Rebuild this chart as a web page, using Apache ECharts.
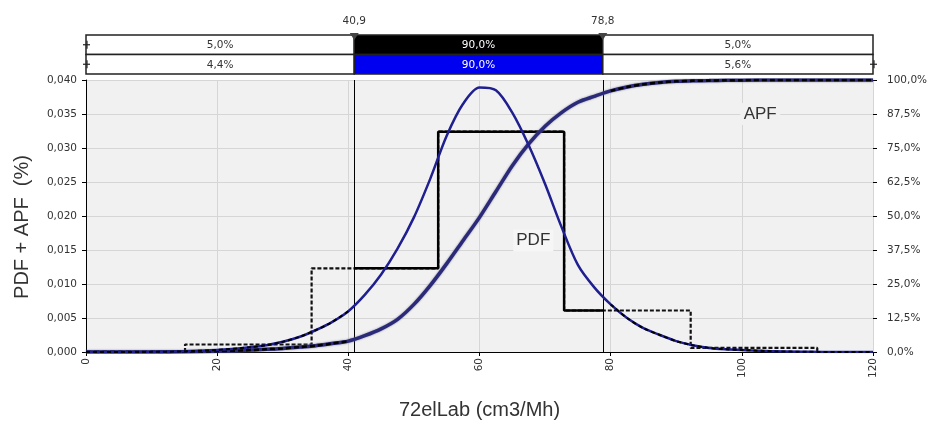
<!DOCTYPE html>
<html>
<head>
<meta charset="utf-8">
<script src="https://cdn.jsdelivr.net/npm/echarts@6/dist/echarts.min.js"></script>
<style>
  html, body { margin: 0; padding: 0; background: #fff; }
  #chart { width: 939px; height: 425px; }
</style>
</head>
<body>
<div id="chart"></div>
<script>
// sample positions (cm3/Mh)
const xs = [0, 5, 10, 15, 20, 25, 27.5, 30, 32.5, 35, 37.5, 40, 42.5, 45, 47.5, 50, 52.5, 55, 57.5, 60, 62.5, 65, 67.5, 70, 72.5, 75, 77.5, 80, 82.5, 85, 87.5, 90, 92.5, 95, 97.5, 100, 105, 110, 115, 120]
const pdfValues = [0, 0, 0.00002, 0.0001, 0.0003, 0.0007, 0.0010, 0.0015, 0.0022, 0.0032, 0.0044, 0.0060, 0.0084, 0.0114, 0.0152, 0.0198, 0.0255, 0.0318, 0.0365, 0.0389, 0.0385, 0.0352, 0.0304, 0.0247, 0.0184, 0.0128, 0.0095, 0.0070, 0.0050, 0.0035, 0.0025, 0.0016, 0.0010, 0.0006, 0.0004, 0.0003, 0.0001, 0.00003, 0, 0]
const apfValues = [0, 0, 0, 0.1, 0.3, 0.7, 1.0, 1.3, 1.8, 2.3, 3.1, 4.0, 6.0, 8.5, 12.0, 17.5, 24.5, 32.5, 41.0, 49.5, 59.0, 68.5, 76.5, 83.0, 88.0, 91.8, 94.0, 96.0, 97.4, 98.4, 99.1, 99.5, 99.7, 99.8, 99.9, 99.95, 100, 100, 100, 100]

// histogram
const binEdges = [15.1, 34.4, 53.7, 72.9, 92.2, 111.5]
const binHeights = [0.0011, 0.0123, 0.0324, 0.0061, 0.0006]

// 90% interval markers and band labels
const markers = [40.9, 78.8]
const markerLabels = ['40,9', '78,8']
const empiricalShares = ['5,0%', '90,0%', '5,0%']
const fittedShares = ['4,4%', '90,0%', '5,6%']

const xTicks = [0, 20, 40, 60, 80, 100, 120]

const FONT = 'DejaVu Sans'
const lo = markers[0]
const hi = markers[1]

const pdfData = xs.map((x, i) => [x, pdfValues[i]])
const apfData = xs.map((x, i) => [x, apfValues[i]])
const leftOf = (d) => d[0] <= lo
const rightOf = (d) => d[0] >= hi

// step outline of the histogram
const histPts = [[binEdges[0], 0]]
binHeights.forEach((h, i) => {
    histPts.push([binEdges[i], h])
    histPts.push([binEdges[i + 1], h])
})
histPts.push([binEdges[binEdges.length - 1], 0])

const heightAt = (x) => {
    for (let i = 0; i < binHeights.length; i++) {
        if (x >= binEdges[i] && x < binEdges[i + 1]) return binHeights[i]
    }
    return 0
}
const histInside = [[lo, heightAt(lo)]]
    .concat(histPts.filter((p) => p[0] > lo && p[0] < hi))
    .concat([[hi, heightAt(hi)]])

// band cells: [x0, x1, row, segment]
const cuts = [0, lo, hi, 120]
const bandCells = []
for (let r = 0; r < 2; r++) {
    for (let s = 0; s < 3; s++) bandCells.push([cuts[s], cuts[s + 1], r, s])
}
const rowShares = [empiricalShares, fittedShares]
const midFill = ['#000000', '#0000f0']

// little slider handles on the band ends: [x, row]
const handles = [[0, 0], [0, 1], [120, 1]]

const chart = echarts.init(document.getElementById('chart'), null, { renderer: 'canvas' })

const curve = (name, data, yAxisIndex, z, lineStyle) => ({
    name, type: 'line', xAxisIndex: 0, yAxisIndex, data, smooth: 0.3,
    showSymbol: false, silent: true, z, lineStyle,
})
const pdfDash = { color: '#000', width: 2, type: [4, 3] }
const apfDash = { color: '#000', width: 2.5, type: [5, 3] }

const option = {
    animation: false,
    backgroundColor: '#ffffff',
    grid: [
        { left: 86, right: 66, top: 80, bottom: 71, show: true, backgroundColor: '#f1f1f1', borderWidth: 0 },
        { left: 86, right: 66, top: 35, height: 39, show: false },
    ],
    xAxis: [
        {
            type: 'value', gridIndex: 0, min: 0, max: 120, interval: 20,
            name: '72elLab (cm3/Mh)', nameLocation: 'middle', nameGap: 48,
            nameTextStyle: { fontFamily: 'Liberation Sans', fontSize: 20, color: '#333' },
            axisLine: { show: true, lineStyle: { color: '#000', width: 1 } },
            axisTick: { show: true, inside: false, length: 4, lineStyle: { color: '#000' } },
            axisLabel: {
                rotate: 90, fontFamily: FONT, fontSize: 10.5, color: '#333', margin: 6,
                formatter: (v) => xTicks.includes(v) ? String(v) : '',
            },
            splitLine: { show: true, lineStyle: { color: '#d6d6d6', width: 1 } },
        },
        { type: 'value', gridIndex: 1, min: 0, max: 120, show: false },
    ],
    yAxis: [
        {
            type: 'value', gridIndex: 0, min: 0, max: 0.04, interval: 0.005,
            name: 'PDF + APF  (%)', nameLocation: 'middle', nameGap: 54, nameRotate: 90,
            nameTextStyle: { fontFamily: 'Liberation Sans', fontSize: 20, color: '#333', padding: [0, 22, 0, 0] },
            axisLine: { show: true, lineStyle: { color: '#000', width: 1 } },
            axisTick: { show: true, length: 4, lineStyle: { color: '#000' } },
            axisLabel: {
                fontFamily: FONT, fontSize: 10.5, color: '#333', margin: 9,
                formatter: (v) => v.toFixed(3).replace('.', ','),
            },
            splitLine: { show: true, lineStyle: { color: '#d6d6d6', width: 1 } },
        },
        {
            type: 'value', gridIndex: 0, min: 0, max: 100, interval: 12.5, position: 'right',
            axisLine: { show: false },
            axisTick: { show: true, length: 4, lineStyle: { color: '#000' } },
            axisLabel: {
                fontFamily: FONT, fontSize: 10.5, color: '#333', margin: 14,
                formatter: (v) => v.toFixed(1).replace('.', ',') + '%',
            },
            splitLine: { show: false },
        },
        { type: 'value', gridIndex: 1, min: 0, max: 2, show: false },
    ],
    series: [
        {
            name: 'hist-out', type: 'line', xAxisIndex: 0, yAxisIndex: 0,
            data: histPts, showSymbol: false, silent: true, z: 3,
            lineStyle: { color: '#111', width: 2.2, type: [4, 2] },
        },
        {
            name: 'hist-in', type: 'line', xAxisIndex: 0, yAxisIndex: 0,
            data: histInside, showSymbol: false, silent: true, z: 4,
            lineStyle: { color: '#000', width: 2.5 },
            markLine: {
                silent: true, symbol: 'none', label: { show: false },
                lineStyle: { color: '#000', width: 1, type: 'solid' },
                data: markers.map((m) => ({ xAxis: m })),
            },
        },
        Object.assign(curve('APF', apfData, 1, 5, {
            color: '#2a2a78', width: 3.5, shadowColor: 'rgba(110,110,140,0.9)', shadowBlur: 2,
        }), {
            markPoint: {
                symbol: 'rect', symbolSize: [40, 22], silent: true,
                itemStyle: { color: '#f1f1f1' },
                label: { show: true, formatter: 'APF', fontFamily: 'Liberation Sans', fontSize: 17, color: '#333' },
                data: [{ coord: [102.8, 87.5] }],
            },
        }),
        curve('APF-left', apfData.filter(leftOf), 1, 6, apfDash),
        curve('APF-right', apfData.filter(rightOf), 1, 6, apfDash),
        Object.assign(curve('PDF', pdfData, 0, 7, { color: '#1f1f90', width: 2.5 }), {
            markPoint: {
                symbol: 'rect', symbolSize: [40, 22], silent: true,
                itemStyle: { color: '#f6f6f6' },
                label: { show: true, formatter: 'PDF', fontFamily: 'Liberation Sans', fontSize: 17, color: '#333' },
                data: [{ coord: [68.2, 0.0164] }],
            },
        }),
        curve('PDF-left', pdfData.filter(leftOf), 0, 8, pdfDash),
        curve('PDF-right', pdfData.filter(rightOf), 0, 8, pdfDash),
        {
            name: 'band', type: 'custom', xAxisIndex: 1, yAxisIndex: 2,
            data: bandCells, silent: true, z: 10,
            renderItem: (params, api) => {
                const x0 = api.value(0)
                const x1 = api.value(1)
                const row = api.value(2)
                const seg = api.value(3)
                const tl = api.coord([x0, 2 - row])
                const br = api.coord([x1, 1 - row])
                const mid = seg === 1
                return {
                    type: 'group',
                    children: [
                        {
                            type: 'rect',
                            shape: { x: tl[0], y: tl[1], width: br[0] - tl[0], height: br[1] - tl[1] },
                            style: { fill: mid ? midFill[row] : '#fff', stroke: '#222', lineWidth: 1.5 },
                        },
                        {
                            type: 'text',
                            style: {
                                text: rowShares[row][seg], x: (tl[0] + br[0]) / 2, y: (tl[1] + br[1]) / 2 + 1,
                                align: 'center', verticalAlign: 'middle',
                                fontFamily: FONT, fontSize: 10.5, fill: mid ? '#fff' : '#333',
                            },
                        },
                    ],
                }
            },
        },
        {
            name: 'handles', type: 'custom', xAxisIndex: 1, yAxisIndex: 2,
            data: handles, silent: true, z: 12,
            renderItem: (params, api) => {
                const p = api.coord([api.value(0), 1.5 - api.value(1)])
                return {
                    type: 'group',
                    children: [
                        { type: 'line', shape: { x1: p[0] - 3, y1: p[1], x2: p[0] + 4, y2: p[1] }, style: { stroke: '#222', lineWidth: 1.2 } },
                        { type: 'line', shape: { x1: p[0] + 1, y1: p[1] - 4, x2: p[0] + 1, y2: p[1] + 4 }, style: { stroke: '#222', lineWidth: 1.2 } },
                    ],
                }
            },
        },
        {
            name: 'markers', type: 'custom', xAxisIndex: 1, yAxisIndex: 2,
            data: markers.map((m, i) => [m, i]), silent: true, z: 11,
            renderItem: (params, api) => {
                const p = api.coord([api.value(0), 2])
                return {
                    type: 'group',
                    children: [
                        {
                            type: 'polygon',
                            shape: { points: [[p[0] - 4.5, p[1] - 2], [p[0] + 4.5, p[1] - 2], [p[0], p[1] + 5]] },
                            style: { fill: '#444' },
                        },
                        {
                            type: 'text',
                            style: {
                                text: markerLabels[api.value(1)], x: p[0], y: p[1] - 14,
                                align: 'center', verticalAlign: 'middle',
                                fontFamily: FONT, fontSize: 10.5, fill: '#333',
                            },
                        },
                    ],
                }
            },
        },
    ],
}

chart.setOption(option)
</script>
</body>
</html>
